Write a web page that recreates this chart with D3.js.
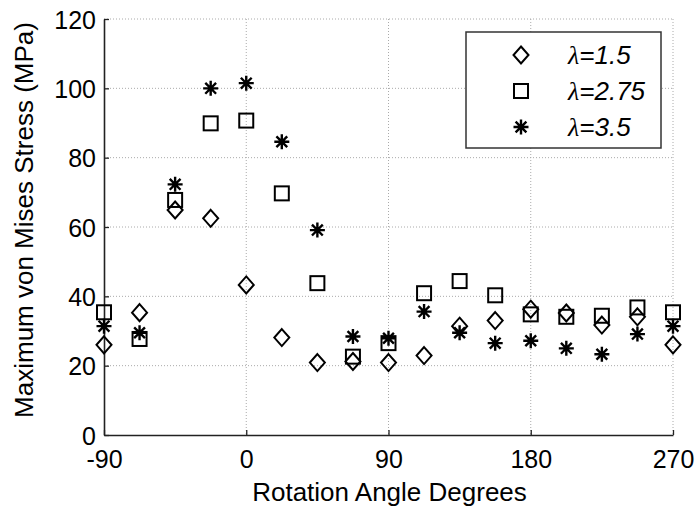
<!DOCTYPE html>
<html>
<head>
<meta charset="utf-8">
<style>
  body { margin: 0; background: #fff; }
  svg text { font-family: Arial, "Liberation Sans", sans-serif; fill: #000; }
</style>
<script src="https://d3js.org/d3.v7.min.js"></script>
</head>
<body>
<svg id="chart" width="697" height="508"></svg>
<script>
// rotation angles (degrees)
var angles = [-90, -67.5, -45, -22.5, 0, 22.5, 45, 67.5, 90, 112.5, 135, 157.5, 180, 202.5, 225, 247.5, 270];

// maximum von Mises stress (MPa) for each lambda
var lambda15  = [26.0, 35.3, 64.9, 62.5, 43.3, 28.1, 20.9, 21.2, 20.9, 22.9, 31.4, 33.0, 36.3, 35.2, 31.7, 34.1, 26.0];
var lambda275 = [35.4, 27.7, 67.8, 89.9, 90.7, 69.7, 43.8, 22.6, 26.5, 40.9, 44.4, 40.3, 34.8, 34.1, 34.4, 36.8, 35.4];
var lambda35  = [31.4, 29.5, 72.3, 100.0, 101.5, 84.6, 59.1, 28.4, 27.9, 35.6, 29.5, 26.5, 27.2, 25.0, 23.3, 29.1, 31.4];

var xTicks = [-90, 0, 90, 180, 270];
var yTicks = [0, 20, 40, 60, 80, 100, 120];
var seriesNames = ["1.5", "2.75", "3.5"];
var seriesShapes = ["diamond", "square", "star"];

var margin = {top: 19, right: 24, bottom: 73, left: 104},
    width = 697 - margin.left - margin.right,
    height = 508 - margin.top - margin.bottom;

var svg = d3.select("#chart");
var g = svg.append("g").attr("transform", "translate(" + margin.left + "," + margin.top + ")");

var x = d3.scaleLinear().domain([-90, 270]).range([0, width]);
var y = d3.scaleLinear().domain([0, 120]).range([height, 0]);

// dotted grid
g.selectAll("line.gx")
  .data(xTicks.slice(1))
  .enter().append("line")
    .attr("x1", function(d) { return x(d); })
    .attr("x2", function(d) { return x(d); })
    .attr("y1", 0).attr("y2", height)
    .attr("stroke", "#aaa").attr("stroke-width", 1)
    .attr("stroke-dasharray", "1,2");

g.selectAll("line.gy")
  .data(yTicks.slice(1))
  .enter().append("line")
    .attr("x1", 0).attr("x2", width)
    .attr("y1", function(d) { return y(d); })
    .attr("y2", function(d) { return y(d); })
    .attr("stroke", "#aaa").attr("stroke-width", 1)
    .attr("stroke-dasharray", "1,2");

// axes
var plain = function(d) { return String(d); };
var xAxis = g.append("g")
    .attr("transform", "translate(0," + height + ")")
    .call(d3.axisBottom(x).tickValues(xTicks).tickFormat(plain).tickSizeInner(-5).tickSizeOuter(0).tickPadding(15));
var yAxis = g.append("g")
    .call(d3.axisLeft(y).tickValues(yTicks).tickFormat(plain).tickSizeInner(-5).tickSizeOuter(0).tickPadding(8));

[xAxis, yAxis].forEach(function(a) {
  a.select(".domain").attr("stroke", "#222").attr("stroke-width", 1.6);
  a.selectAll(".tick line").attr("stroke", "#222").attr("stroke-width", 1.3);
  a.selectAll(".tick text").attr("font-size", 25).attr("font-family", "Arial, 'Liberation Sans', sans-serif").attr("fill", "#000");
});
xAxis.selectAll(".tick text").attr("dy", "0.71em");
yAxis.selectAll(".tick text").attr("dy", "0.36em");

// axis labels
svg.append("text")
    .attr("x", margin.left + width / 2 + 1)
    .attr("y", 501)
    .attr("text-anchor", "middle")
    .attr("font-size", 26)
    .text("Rotation Angle Degrees");

svg.append("text")
    .attr("transform", "translate(33," + 220 + ") rotate(-90)")
    .attr("text-anchor", "middle")
    .attr("font-size", 26)
    .text("Maximum von Mises Stress (MPa)");

// marker shapes
function drawMarker(sel, shape) {
  if (shape === "diamond") {
    sel.append("path").attr("d", "M0,-8.5L7.5,0L0,8.5L-7.5,0Z")
      .attr("fill", "none").attr("stroke", "#000").attr("stroke-width", 2);
  } else if (shape === "square") {
    sel.append("rect").attr("x", -7).attr("y", -7).attr("width", 14).attr("height", 14)
      .attr("fill", "none").attr("stroke", "#000").attr("stroke-width", 2);
  } else {
    var r = 7.5, s = r * 0.72;
    sel.append("path")
      .attr("d", "M" + (-r) + ",0L" + r + ",0M0," + (-r) + "L0," + r +
                 "M" + (-s) + "," + (-s) + "L" + s + "," + s +
                 "M" + (-s) + "," + s + "L" + s + "," + (-s))
      .attr("fill", "none").attr("stroke", "#000").attr("stroke-width", 2.4);
  }
}

var allSeries = [lambda15, lambda275, lambda35];
allSeries.forEach(function(vals, k) {
  var pts = g.append("g").selectAll("g")
    .data(vals)
    .enter().append("g")
      .attr("transform", function(d, i) { return "translate(" + x(angles[i]) + "," + y(d) + ")"; });
  drawMarker(pts, seriesShapes[k]);
});

// legend
var legend = svg.append("g").attr("transform", "translate(466,32)");
legend.append("rect")
    .attr("width", 195).attr("height", 116)
    .attr("fill", "#fff").attr("stroke", "#333").attr("stroke-width", 1.5);

seriesNames.forEach(function(name, k) {
  var row = legend.append("g").attr("transform", "translate(0," + (23 + k * 36) + ")");
  var m = row.append("g").attr("transform", "translate(55,0)");
  drawMarker(m, seriesShapes[k]);
  var t = row.append("text")
      .attr("x", 102).attr("y", 9)
      .attr("font-size", 26)
      .attr("font-style", "italic");
  t.append("tspan").attr("font-family", "'Liberation Serif', 'DejaVu Serif', serif").text("\u03bb");
  t.append("tspan").text("=" + name);
});
</script>
</body>
</html>
